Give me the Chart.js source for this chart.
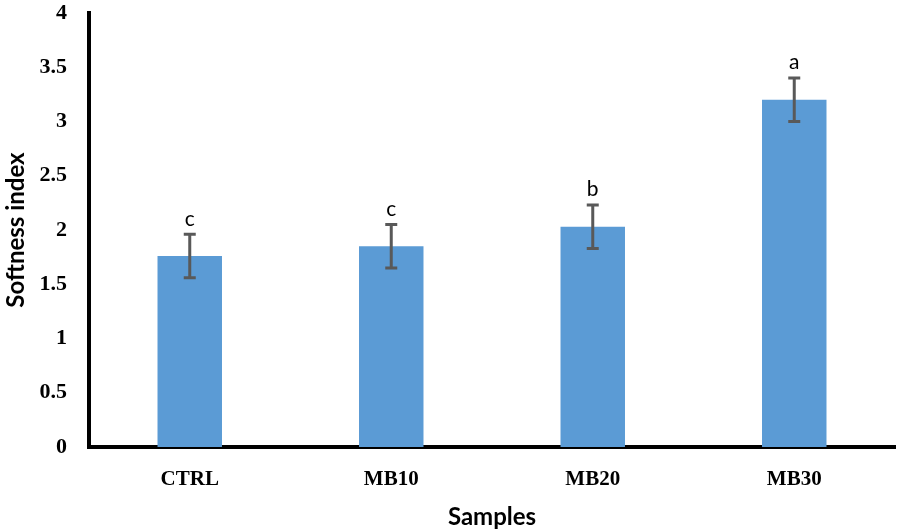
<!DOCTYPE html>
<html lang="en">
<head>
  <meta charset="UTF-8">
  <title>Softness index</title>
  <script src="https://cdn.jsdelivr.net/npm/chart.js@4.4.0/dist/chart.umd.min.js"></script>
  <style>
    html, body { margin: 0; padding: 0; background: #fff; }
    #wrap { width: 904px; height: 532px; }
  </style>
</head>
<body>
  <div id="wrap"><canvas id="myChart" width="904" height="532"></canvas></div>

  <script>
  // data
  var samples = ['CTRL', 'MB10', 'MB20', 'MB30'];
  var softness = [1.76, 1.85, 2.03, 3.20];
  var errors = [0.20, 0.20, 0.20, 0.20];
  var letters = ['c', 'c', 'b', 'a'];
  var yMin = 0, yMax = 4, yStep = 0.5;

  // error bars + significance letters
  var errorBars = {
    id: 'errorBars',
    afterDatasetsDraw: function(chart) {
      var ctx = chart.ctx;
      var y = chart.scales.y;
      var meta = chart.getDatasetMeta(0);
      ctx.save();
      meta.data.forEach(function(bar, i) {
        var top = y.getPixelForValue(softness[i] + errors[i]);
        var bot = y.getPixelForValue(softness[i] - errors[i]);
        ctx.strokeStyle = '#595959';
        ctx.lineWidth = 3;
        ctx.beginPath();
        ctx.moveTo(bar.x, top); ctx.lineTo(bar.x, bot);
        ctx.moveTo(bar.x - 6, top); ctx.lineTo(bar.x + 6, top);
        ctx.moveTo(bar.x - 6, bot); ctx.lineTo(bar.x + 6, bot);
        ctx.stroke();
        ctx.fillStyle = '#000';
        ctx.font = '21px Lato';
        ctx.textAlign = 'center';
        ctx.textBaseline = 'bottom';
        ctx.fillText(letters[i], bar.x, top - 5);
      });
      ctx.restore();
    }
  };

  var ctx = document.getElementById('myChart');
  var myChart = new Chart(ctx, {
    type: 'bar',
    data: {
      labels: samples,
      datasets: [{
        label: 'Softness index',
        data: softness,
        backgroundColor: '#5B9BD5',
        borderWidth: 0,
        categoryPercentage: 1.0,
        barPercentage: 0.32
      }]
    },
    options: {
      responsive: false,
      animation: false,
      layout: { padding: { top: 13, right: 9, left: 0, bottom: 0 } },
      plugins: {
        legend: { display: false },
        tooltip: { enabled: false }
      },
      scales: {
        x: {
          grid: { display: false },
          border: { display: true, color: '#000', width: 4 },
          ticks: {
            color: '#000',
            padding: 12,
            font: { family: 'Liberation Serif', size: 21, weight: 'bold' }
          },
          title: {
            display: true,
            text: 'Samples',
            color: '#000',
            padding: { top: 6, bottom: 0 },
            font: { family: 'Lato', size: 24, weight: 'bold' }
          },
          afterFit: function(scale) { scale.height = 85; }
        },
        y: {
          min: yMin,
          max: yMax,
          grid: { display: false },
          border: { display: true, color: '#000', width: 4 },
          ticks: {
            stepSize: yStep,
            color: '#000',
            padding: 14,
            font: { family: 'Liberation Serif', size: 22, weight: 'bold' },
            callback: function(v) { return String(v); }
          },
          title: {
            display: true,
            text: 'Softness index',
            color: '#000',
            padding: { top: 2, bottom: 0 },
            font: { family: 'Lato', size: 24, weight: 'bold' }
          },
          afterFit: function(scale) {
            scale.width = 89;
            scale.paddingTop = 0;
            scale.paddingBottom = 0;
          }
        }
      }
    },
    plugins: [errorBars]
  });
  </script>
</body>
</html>
